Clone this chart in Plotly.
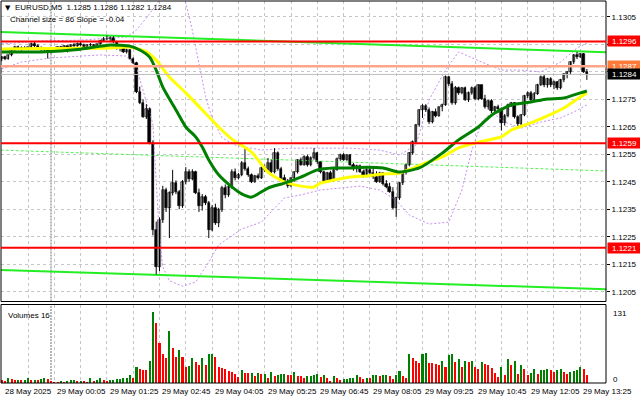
import plotly.graph_objects as go

# ---------------- data (prices in pips above 1.1200) ----------------
BASE = 1.12

bar_open = [89.5,90.2,89.6,90.9,92.9,93.9,93.2,93.8,93.3,93.9,
            95.2,94.3,93.5,92.9,93.5,92.0,93.2,93.4,93.9,93.5,
            94.3,93.2,94.6,94.4,95.2,94.6,94.0,94.8,94.6,93.8,
            95.0,96.2,97.0,96.8,97.4,95.8,93.6,94.2,92.2,92.8,
            89.8,88.2,77.6,73.6,68.5,71.5,59.1,27.5,14.0,31.0,
            42.0,35.5,40.8,44.5,41.2,36.0,45.0,48.5,46.0,48.5,
            41.0,36.0,39.5,37.3,27.5,35.5,30.0,34.7,42.7,40.0,
            43.1,48.5,46.2,47.6,51.8,49.5,47.4,45.0,47.0,46.2,
            50.0,49.2,51.8,48.4,55.6,49.6,46.5,44.6,43.4,46.2,
            48.4,52.8,51.2,54.0,51.0,53.8,55.4,52.0,48.5,45.0,
            48.2,45.6,49.3,53.4,54.6,53.0,54.6,51.2,49.6,50.8,
            48.6,47.0,49.4,48.2,46.6,45.0,48.0,44.0,43.2,41.4,
            35.4,39.0,44.5,48.4,51.2,55.4,59.6,65.6,71.0,72.4,
            71.0,66.6,70.2,69.0,72.0,73.0,83.0,80.6,73.6,79.0,
            77.2,79.0,74.8,77.4,79.2,75.0,80.0,75.2,72.0,74.4,
            70.6,72.2,71.4,66.2,69.0,73.0,73.6,68.6,66.0,69.2,
            76.0,77.4,74.8,77.0,80.2,83.0,80.0,82.4,80.0,81.2,
            79.0,82.0,84.0,84.8,88.4,91.0,90.4,91.4,85.0]
bar_high = [90.6,90.8,91.2,93.4,94.4,94.5,94.2,94.3,94.1,95.6,
            95.8,95.0,94.2,93.9,93.8,93.6,93.8,94.2,94.4,94.6,
            94.5,95.0,95.4,95.6,95.8,95.2,95.0,95.4,95.0,95.2,
            96.6,97.6,98.2,97.8,97.9,96.2,94.6,94.8,93.4,93.2,
            90.2,88.6,79.6,75.0,73.2,72.0,60.0,30.5,32.0,43.5,
            42.8,41.5,49.3,45.5,42.0,45.6,50.3,49.5,49.5,49.0,
            42.5,40.5,40.2,38.0,36.5,37.0,35.5,43.5,44.0,44.0,
            49.5,49.8,48.2,52.5,57.0,50.5,48.0,47.5,48.0,50.5,
            51.2,53.6,53.0,57.2,56.0,50.4,47.6,46.0,46.6,48.8,
            53.2,53.8,54.6,54.8,54.2,57.2,55.8,52.4,49.0,48.6,
            49.0,49.6,53.8,55.2,55.4,55.0,55.0,51.8,51.2,51.2,
            49.4,50.0,50.0,50.3,48.8,48.6,48.4,45.6,44.6,43.0,
            39.6,44.8,48.8,51.6,55.8,60.0,66.0,71.4,73.2,73.2,
            72.0,70.8,71.6,72.4,73.4,83.6,83.4,81.6,79.8,79.6,
            79.4,79.6,77.8,79.6,79.8,80.4,80.4,76.6,74.8,75.0,
            72.6,73.0,72.0,69.6,73.4,74.0,74.0,69.2,69.6,76.6,
            77.8,78.0,77.6,80.6,83.6,84.0,82.8,83.0,81.8,81.6,
            82.4,84.4,85.2,88.8,91.4,92.2,91.8,91.8,86.0]
bar_low = [88.8,89.2,89.4,90.6,92.4,92.8,92.6,93.0,92.9,93.6,
           94.0,93.2,92.6,92.5,89.8,91.6,92.8,93.0,93.2,93.3,
           92.0,93.0,94.0,94.0,94.2,93.8,93.6,94.2,93.4,93.5,
           94.8,95.8,96.4,96.0,95.4,93.0,92.4,91.8,91.6,89.4,
           87.8,77.2,73.2,68.2,67.8,58.6,25.5,11.3,12.5,30.0,
           34.0,24.5,40.0,40.5,35.0,35.5,44.0,45.0,45.5,40.5,
           34.0,34.5,36.5,24.5,27.0,29.3,28.5,34.0,39.0,39.5,
           42.5,45.5,45.8,47.0,49.0,46.8,44.5,44.6,45.8,46.0,
           48.6,49.0,48.0,48.0,49.0,46.0,44.2,42.8,43.0,45.0,
           48.0,50.8,50.8,50.5,50.6,53.0,51.5,48.0,44.6,44.6,
           45.0,45.0,49.0,52.6,52.6,52.6,50.8,49.0,48.4,48.2,
           46.4,46.6,47.6,46.0,44.6,44.6,43.6,42.6,41.0,35.0,
           32.2,38.4,43.8,47.6,50.6,54.8,59.0,65.0,68.2,70.4,
           66.0,66.2,68.4,68.6,70.6,72.6,79.8,73.0,73.0,76.6,
           76.8,74.4,74.0,76.6,74.6,74.6,74.8,71.6,71.2,70.0,
           70.0,71.0,63.6,65.4,68.4,72.2,68.0,65.0,65.6,68.8,
           75.4,74.4,74.2,76.6,79.8,79.4,79.2,79.4,78.6,78.4,
           78.6,81.2,82.6,84.2,87.8,89.6,90.0,84.6,82.0]
bar_close = [90.2,89.6,90.9,92.9,93.9,93.2,93.8,93.3,93.9,95.2,
             94.3,93.5,92.9,93.5,92.0,93.2,93.4,93.9,93.5,94.3,
             93.2,94.6,94.4,95.2,94.6,94.0,94.8,94.6,93.8,95.0,
             96.2,97.0,96.8,97.4,95.8,93.6,94.2,92.2,92.8,89.8,
             88.2,77.6,73.6,68.5,71.5,59.1,27.5,14.0,31.0,42.0,
             35.5,40.8,44.5,41.2,36.0,45.0,48.5,46.0,48.5,41.0,
             36.0,39.5,37.3,27.5,35.5,30.0,34.7,42.7,40.0,43.1,
             48.5,46.2,47.6,51.8,49.5,47.4,45.0,47.0,46.2,50.0,
             49.2,51.8,48.4,55.6,49.6,46.5,44.6,43.4,46.2,48.4,
             52.8,51.2,54.0,51.0,53.8,55.4,52.0,48.5,45.0,48.2,
             45.6,49.3,53.4,54.6,53.0,54.6,51.2,49.6,50.8,48.6,
             47.0,49.4,48.2,46.6,45.0,48.0,44.0,43.2,41.4,35.4,
             39.0,44.5,48.4,51.2,55.4,59.6,65.6,71.0,72.4,71.0,
             66.6,70.2,69.0,72.0,73.0,83.0,80.6,73.6,79.0,77.2,
             79.0,74.8,77.4,79.2,75.0,80.0,75.2,72.0,74.4,70.6,
             72.2,71.4,66.2,69.0,73.0,73.6,68.6,66.0,69.2,76.0,
             77.4,74.8,77.0,80.2,83.0,80.0,82.4,80.0,81.2,79.0,
             82.0,84.0,84.8,88.4,91.0,90.4,91.4,85.0,84.0]

volumes = [6,5,10,8,6,7,6,7,10,6,
           7,6,9,10,9,4,1,1,4,2,
           5,6,7,4,5,4,2,10,4,6,
           10,6,5,6,7,8,9,10,11,16,
           11,30,26,25,24,41,131,111,74,55,
           47,96,65,48,62,48,31,33,47,39,
           34,47,34,54,55,49,31,28,26,23,
           22,18,12,25,20,19,20,14,20,17,
           18,10,22,13,16,17,18,16,15,21,
           14,13,11,13,14,16,17,12,16,10,
           5,14,10,7,8,9,10,11,16,12,
           9,11,10,15,16,14,15,16,13,9,
           16,23,14,11,55,47,42,38,55,56,
           38,37,35,34,42,31,52,55,39,45,
           31,42,39,42,31,27,39,36,34,28,
           20,12,30,16,45,34,41,18,34,27,
           16,20,26,18,24,25,26,25,21,25,
           26,22,18,22,23,24,30,26,16]

x_label_bars = [0, 16, 32, 48, 64, 80, 96, 112, 128, 144, 160, 176]
x_labels = ["28 May 2025", "29 May 00:05", "29 May 01:25", "29 May 02:45",
            "29 May 04:05", "29 May 05:25", "29 May 06:45", "29 May 08:05",
            "29 May 09:25", "29 May 10:45", "29 May 12:05", "29 May 13:25"]
price_ticks = [1.1205, 1.1215, 1.1225, 1.1235, 1.1245, 1.1255,
               1.1265, 1.1275, 1.1285, 1.1295, 1.1305]
price_tick_text = ["1.1205", "1.1215", "1.1225", "1.1235", "1.1245", "1.1255",
                   "1.1265", "1.1275", "", "", "1.1305"]

green_ma_bars = [0,12,24,33,39,42,45,47,49,53,56,59,61,63,66,70,73,76,81,86,
                 91,96,101,106,111,116,121,127,134,139,145,149,155,161,166,171,176,178]
green_ma = [92.2,92.2,93.2,94.7,94.3,92.9,90.3,85.6,79.4,71.1,64.9,61.3,57.6,52.9,47.5,43.1,40.6,39.4,42.7,44.5,
            46.7,49.3,50.0,50.0,50.3,50.0,48.5,50.0,55.4,60.2,64.9,69.2,72.9,74.0,75.1,75.4,77.3,78.0]
yellow_ma_bars = [0,12,24,33,39,44,47,51,56,61,66,70,76,81,86,91,95,97,101,106,
                  111,116,121,129,134,139,145,152,155,161,166,171,176,178]
yellow_ma = [93.3,93.4,93.5,93.6,94.0,92.2,89.2,83.1,77.3,71.1,64.9,60.5,55.8,48.5,44.9,43.4,43.1,44.5,45.6,46.7,
             47.1,47.8,48.2,51.8,54.0,57.3,59.4,61.3,63.8,66.4,68.9,71.8,75.8,77.3]
bb_upper_bars = [0,12,24,33,38,41,44,47,50,54,56,58,60,62,64,67,71,79,88,97,
                 106,115,121,126,130,135,139,146,152,158,164,170,175,178]
bb_upper = [95.1,96.2,96.5,97.2,97.6,100.2,104.5,109.3,114.0,116.0,110.0,100.0,88.0,76.0,68.0,61.0,58.3,56.5,57.2,57.2,
            57.2,56.5,54.7,58.3,74.7,85.6,92.2,88.5,85.6,85.6,84.9,88.5,93.6,95.4]
bb_lower_bars = [0,6,15,30,38,41,44,46,47,48,49,51,55,59,63,66,73,79,86,91,
                 97,103,109,115,120,124,130,136,140,143,146,149,153,158,164,170,174,178]
bb_lower = [86.0,88.5,90.0,91.1,90.7,86.5,74.0,66.0,45.0,25.0,14.0,9.0,7.0,8.5,15.8,22.0,27.8,30.3,39.1,40.2,
            42.0,42.7,43.4,42.0,38.3,32.9,29.6,30.3,42.0,56.5,66.7,70.3,66.7,64.5,66.7,68.2,70.3,72.9]

channel_bars = [-0.3, 183.9]
channel_upper = [1.12994, 1.12921]
channel_mid = [1.12565, 1.12489]
channel_lower = [1.12129, 1.12059]

red_levels = [1.1296, 1.1259, 1.1221]
salmon_level = 1.1287
bid_level = 1.1284
separator_bar = 15

title_text = "EURUSD,M5\u00a0 1.1285 1.1286 1.1282 1.1284"
channel_text = "Channel size = 86 Slope = -0.04"

# ---------------- build ----------------
def pr(v):
    return BASE + v / 10000.0

n = len(bar_close)
idx = list(range(n))
O = [pr(v) for v in bar_open]
H = [pr(v) for v in bar_high]
L = [pr(v) for v in bar_low]
C = [pr(v) for v in bar_close]

FONT = "Liberation Sans, Arial, sans-serif"
W, HGT = 640, 401
ML, MR, MT, MB = 1, 34, 1, 18
PW = W - ML - MR
PH = HGT - MT - MB


def fx(X):
    return (X - ML) / PW


def fy(Y):
    return (HGT - MB - Y) / PH


main_dom = [fy(301.5), 1.0]
vol_dom = [0.0, fy(304.5)]

fig = go.Figure()

# Bollinger bands
fig.add_trace(go.Scatter(x=bb_upper_bars, y=[pr(v) for v in bb_upper], mode="lines",
                         line=dict(color="#C58CF0", width=1, dash="2px,2px"), xaxis="x", yaxis="y"))
fig.add_trace(go.Scatter(x=bb_lower_bars, y=[pr(v) for v in bb_lower], mode="lines",
                         line=dict(color="#C58CF0", width=1, dash="2px,2px"), xaxis="x", yaxis="y"))

# regression channel
fig.add_trace(go.Scatter(x=channel_bars, y=channel_upper, mode="lines",
                         line=dict(color="#22EE22", width=2), xaxis="x", yaxis="y"))
fig.add_trace(go.Scatter(x=channel_bars, y=channel_lower, mode="lines",
                         line=dict(color="#22EE22", width=2), xaxis="x", yaxis="y"))
fig.add_trace(go.Scatter(x=channel_bars, y=channel_mid, mode="lines",
                         line=dict(color="#55F055", width=1, dash="3px,2px"), xaxis="x", yaxis="y"))

# candle wicks
wx, wy = [], []
for i in idx:
    wx += [i, i, None]
    wy += [L[i], H[i], None]
fig.add_trace(go.Scatter(x=wx, y=wy, mode="lines", line=dict(color="black", width=1),
                         xaxis="x", yaxis="y"))

# candle bodies
base = [min(O[i], C[i]) for i in idx]
height = [max(abs(C[i] - O[i]), 0.00002) for i in idx]
body_col = ["#A8A8A8" if C[i] >= O[i] else "#000000" for i in idx]
fig.add_trace(go.Bar(x=idx, y=height, base=base, width=0.72,
                     marker=dict(color=body_col, line=dict(color="black", width=0.6)),
                     xaxis="x", yaxis="y"))

# moving averages
fig.add_trace(go.Scatter(x=yellow_ma_bars, y=[pr(v) for v in yellow_ma], mode="lines",
                         line=dict(color="#FFFF00", width=3, shape="spline", smoothing=0.6),
                         xaxis="x", yaxis="y"))
fig.add_trace(go.Scatter(x=green_ma_bars, y=[pr(v) for v in green_ma], mode="lines",
                         line=dict(color="#008000", width=3, shape="spline", smoothing=0.6),
                         xaxis="x", yaxis="y"))

# volumes
vcol = []
for i in idx:
    if i > 0 and volumes[i] > volumes[i - 1]:
        vcol.append("#008000")
    else:
        vcol.append("#FF0000")
fig.add_trace(go.Bar(x=idx, y=volumes, width=0.62, marker=dict(color=vcol, line=dict(width=0)),
                     xaxis="x", yaxis="y2"))

grid = dict(showgrid=True, gridcolor="#C6C6C6", gridwidth=1, griddash="3px,3px")

fig.update_layout(
    width=W, height=HGT,
    margin=dict(l=ML, r=MR, t=MT, b=MB, pad=0),
    paper_bgcolor="white", plot_bgcolor="white",
    showlegend=False, hovermode=False, barmode="overlay", bargap=0,
    xaxis=dict(domain=[0, 1], range=[-0.213, 183.82], anchor="y2",
               tickmode="array", tickvals=list(range(0, 184, 8)), showticklabels=False,
               ticks="", zeroline=False, showline=False, **grid),
    yaxis=dict(domain=main_dom, range=[1.120144, 1.131071], side="right", anchor="x",
               tickmode="array", tickvals=price_ticks, ticktext=price_tick_text,
               ticks="outside", ticklen=3, tickcolor="black",
               tickfont=dict(family=FONT, size=8, color="black"),
               zeroline=False, showline=False, **grid),
    yaxis2=dict(domain=vol_dom, range=[0, 144.2], side="right", anchor="x",
                tickmode="array", tickvals=[], showgrid=False, zeroline=False, showline=False),
)

shapes = []
# panel frames
shapes.append(dict(type="rect", xref="paper", yref="paper", x0=0, x1=1, y0=main_dom[0], y1=1,
                   line=dict(color="black", width=1), layer="above"))
shapes.append(dict(type="rect", xref="paper", yref="paper", x0=0, x1=1, y0=0, y1=vol_dom[1],
                   line=dict(color="black", width=1), layer="above"))
# period separator
for dom in (main_dom, vol_dom):
    shapes.append(dict(type="line", xref="x", yref="paper", x0=separator_bar, x1=separator_bar,
                       y0=dom[0], y1=dom[1], line=dict(color="#6E6E6E", width=1, dash="2px,1px"),
                       layer="below"))
# level lines
shapes.append(dict(type="line", xref="paper", yref="y", x0=0, x1=1, y0=bid_level, y1=bid_level,
                   line=dict(color="#BEBEBE", width=1), layer="above"))
shapes.append(dict(type="line", xref="paper", yref="y", x0=0, x1=1, y0=salmon_level, y1=salmon_level,
                   line=dict(color="#FFA58A", width=2.5), layer="above"))
for lv in red_levels:
    shapes.append(dict(type="line", xref="paper", yref="y", x0=0, x1=1, y0=lv, y1=lv,
                       line=dict(color="#FF0000", width=2), layer="above"))
fig.update_layout(shapes=shapes)

ann = []
ann.append(dict(xref="paper", yref="paper", x=fx(3), y=fy(7.5), xanchor="left", yanchor="middle",
                text="\u25bc", showarrow=False, font=dict(family="DejaVu Sans", size=7, color="black")))
ann.append(dict(xref="paper", yref="paper", x=fx(12.5), y=fy(7.5), xanchor="left", yanchor="middle",
                text=title_text, showarrow=False, font=dict(family=FONT, size=8, color="black")))
ann.append(dict(xref="paper", yref="paper", x=fx(7.5), y=fy(19.5), xanchor="left", yanchor="middle",
                text=channel_text, showarrow=False, font=dict(family=FONT, size=8, color="black")))
ann.append(dict(xref="paper", yref="paper", x=fx(5.5), y=fy(315.5), xanchor="left", yanchor="middle",
                text="Volumes " + str(volumes[-1]), showarrow=False,
                font=dict(family=FONT, size=8, color="black")))
ann.append(dict(xref="paper", yref="paper", x=fx(610.5), y=fy(313.5), xanchor="left", yanchor="middle",
                text=str(max(volumes)), showarrow=False, font=dict(family=FONT, size=8, color="black")))
ann.append(dict(xref="paper", yref="paper", x=fx(610.5), y=fy(379), xanchor="left", yanchor="middle",
                text="0", showarrow=False, font=dict(family=FONT, size=8, color="black")))
for b, t in zip(x_label_bars, x_labels):
    ann.append(dict(xref="x", yref="paper", x=b + 0.3, y=fy(391.5), xanchor="left", yanchor="middle",
                    text=t, showarrow=False, font=dict(family=FONT, size=8, color="black")))


def box(level, bg):
    return dict(xref="paper", yref="y", x=fx(607), y=level, xanchor="left", yanchor="middle",
                text="%.4f" % level, showarrow=False, width=33, height=10, align="center",
                bgcolor=bg, borderpad=0, font=dict(family=FONT, size=8, color="white"))


for lv in red_levels:
    ann.append(box(lv, "#FF0000"))
ann.append(box(salmon_level, "#FF7B3A"))
ann.append(box(bid_level, "#000000"))
fig.update_layout(annotations=ann)

fig.write_html("out.html", config={"displayModeBar": False},
               post_script="document.body.style.margin='0';document.body.style.padding='0';")
